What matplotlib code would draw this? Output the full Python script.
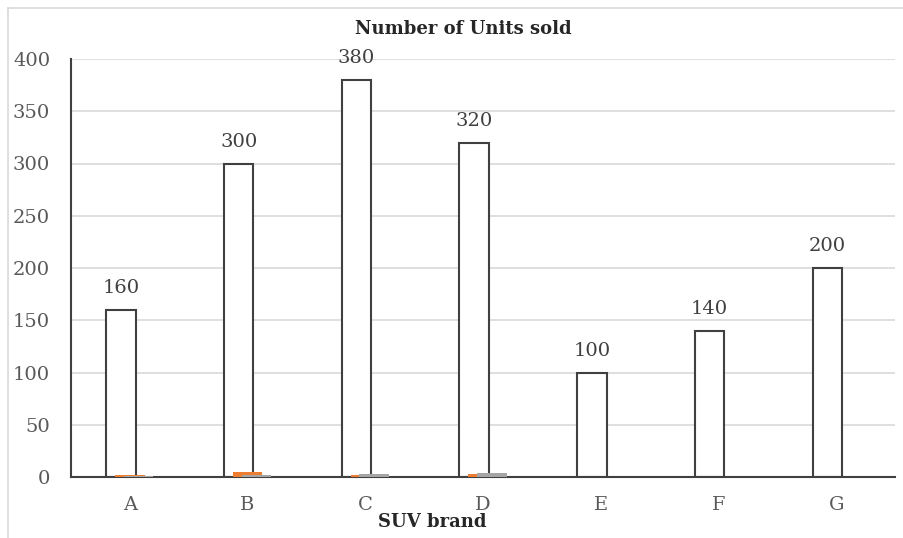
import matplotlib.pyplot as plt
import numpy as np
from matplotlib.lines import Line2D

brands = ['A', 'B', 'C', 'D', 'E', 'F', 'G']
units = [160, 300, 380, 320, 100, 140, 200]
# two tiny series that show at the foot of the first four clusters
series2 = [1.5, 5, 1.5, 3, 0, 0, 0]
series3 = [1, 1.5, 3, 4, 0, 0, 0]
yticks = [0, 50, 100, 150, 200, 250, 300, 350, 400]

plt.rcParams['font.family'] = ['DejaVu Serif']

fig = plt.figure(figsize=(9.04, 5.38), dpi=100)
ax = fig.add_axes([71/904, 61/538, 824/904, 418/538])

x = np.arange(len(brands))
w = 0.25
step = 0.075

ax.bar(x - step, units, w, color='white', edgecolor='#404040', linewidth=1.5, zorder=2)
ax.bar(x, series2, w, color='#ED7D31', zorder=3)
ax.bar(x + step, series3, w, color='#A5A5A5', zorder=4)

for xi, v in zip(x, units):
    ax.text(xi - step, v + 12, str(v), ha='center', va='bottom',
            fontsize=14, color='#404040')

ax.set_xlim(-0.5, len(brands) - 0.5)
ax.set_ylim(0, 400)
ax.set_yticks(yticks)
ax.set_xticks(x)
ax.set_xticklabels(brands)
ax.tick_params(axis='both', length=0, labelsize=14, colors='#595959')
ax.tick_params(axis='y', pad=15)
ax.tick_params(axis='x', pad=14)

ax.yaxis.grid(True, color='#d9d9d9', linewidth=1.2, zorder=0)
ax.set_axisbelow(True)
for s in ['top', 'right']:
    ax.spines[s].set_visible(False)
ax.spines['left'].set_color('#404040')
ax.spines['bottom'].set_color('#404040')
ax.spines['left'].set_linewidth(1.5)
ax.spines['bottom'].set_linewidth(1.5)

fig.text(463/904, 1 - 29/538, 'Number of Units sold', ha='center', va='center',
         fontsize=13, fontweight='bold', color='#262626')
fig.text(432/904, 1 - 522/538, 'SUV brand', ha='center', va='center',
         fontsize=13, fontweight='bold', color='#262626')

# light chart-area border (left and top edges visible)
fig.add_artist(Line2D([8/904, 8/904], [0, 1 - 8/538], transform=fig.transFigure,
                      color='#d9d9d9', linewidth=1.2))
fig.add_artist(Line2D([8/904, 1], [1 - 8/538, 1 - 8/538], transform=fig.transFigure,
                      color='#d9d9d9', linewidth=1.2))

plt.savefig('out.png', dpi=100)
